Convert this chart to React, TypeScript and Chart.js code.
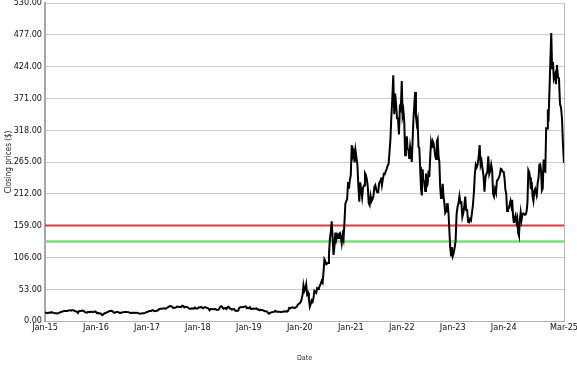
import { useEffect, useRef } from 'react';
import { Chart, registerables } from 'chart.js';

Chart.register(...registerables);

// X-axis ticks (months since Jan 2015) and their labels
const tickMonths = [0, 12, 24, 36, 48, 60, 72, 84, 96, 108, 122.2];
const tickLabels = ['Jan-15', 'Jan-16', 'Jan-17', 'Jan-18', 'Jan-19', 'Jan-20', 'Jan-21', 'Jan-22', 'Jan-23', 'Jan-24', 'Mar-25'];

// Y-axis range
const yMin = 0;
const yMax = 530;
const yStep = 53;

// Horizontal reference levels
const redLevel = 159;
const greenLevel = 132.5;

// Approximate weekly closing prices ($), per calendar year
const close2015 = [14.6, 13.8, 13.5, 13.4, 13.6, 14.5, 13.6, 14.6, 13.9, 13.4, 12.8, 13.0, 12.6, 12.7, 13.8, 14.1, 15.3, 15.4, 16.1, 16.5, 16.6, 16.5, 16.7, 17.2, 17.7, 18.0, 17.2, 17.8, 17.8, 17.6, 16.1, 16.2, 15.4, 13.4, 16.5, 16.6, 16.7, 17.5, 17.2, 16.5, 14.7, 14.2, 13.9, 15.4, 15.0, 14.6, 15.4, 15.3, 14.8, 15.2, 16.0];
const close2016 = [14.9, 13.2, 13.5, 12.7, 12.9, 11.9, 9.8, 11.0, 12.6, 13.4, 13.6, 15.0, 15.2, 16.6, 16.7, 16.9, 16.0, 14.2, 13.9, 14.6, 14.9, 14.9, 14.5, 13.1, 13.8, 14.4, 14.6, 14.8, 15.0, 15.1, 14.9, 14.8, 14.2, 13.3, 13.3, 13.8, 13.6, 13.3, 13.7, 13.6, 13.5, 12.7, 12.3, 12.4, 12.6, 12.8, 13.0, 13.5, 14.2];
const close2017 = [15.1, 15.2, 16.6, 16.8, 16.7, 18.0, 18.0, 16.4, 16.7, 16.8, 17.5, 18.6, 20.0, 20.3, 20.5, 20.9, 20.9, 21.3, 20.3, 21.7, 22.6, 23.8, 25.0, 24.7, 24.0, 21.8, 21.9, 22.0, 22.7, 23.9, 23.6, 23.5, 23.8, 23.3, 25.5, 24.8, 22.7, 23.6, 23.5, 23.0, 21.3, 20.6, 20.1, 21.1, 21.0, 20.3, 22.6, 21.6, 20.7];
const close2018 = [21.1, 22.7, 22.6, 23.6, 22.1, 21.3, 22.8, 23.0, 22.2, 21.9, 20.6, 17.7, 19.9, 20.0, 19.4, 19.5, 20.1, 19.3, 18.4, 18.6, 19.8, 23.9, 24.8, 22.9, 20.5, 21.2, 21.4, 19.9, 23.1, 23.9, 21.1, 20.4, 18.9, 19.5, 20.0, 17.7, 16.8, 17.2, 17.4, 22.1, 23.0, 23.1, 23.4, 23.3, 23.9, 24.4, 21.3, 22.2];
const close2019 = [21.2, 23.1, 19.9, 19.9, 20.9, 20.5, 20.3, 21.3, 19.1, 19.4, 17.9, 18.6, 18.4, 17.9, 17.4, 16.4, 16.4, 15.7, 13.7, 12.3, 13.7, 14.3, 14.8, 14.9, 15.6, 16.9, 15.3, 15.3, 15.4, 15.2, 14.9, 15.1, 15.2, 16.1, 16.0, 16.1, 15.6, 16.9, 21.9, 21.0, 22.4, 23.0, 22.2, 21.9, 22.3, 23.6, 27.0, 28.7];
const close2020 = [29.5, 32.1, 36.5, 43.4, 59.1, 49.9, 53.3, 61.2, 44.5, 46.9, 36.4, 24.1, 28.5, 34.3, 32.1, 38.2, 50.2, 48.3, 46.8, 54.6, 53.3, 55.2, 59.0, 62.4, 66.7, 64.0, 80.6, 103.0, 100.0, 94.5, 95.4, 96.8, 110.0, 136.6, 147.5, 166.1, 139.4, 110.0, 124.0, 147.4, 135.7, 143.0, 138.4, 144.8, 146.5, 140.0, 129.4, 143.3, 136.2, 163.2, 195.0, 199.7, 203.0, 231.7, 220.6, 235.2];
const close2021 = [243.3, 293.3, 275.3, 282.3, 264.5, 284.0, 272.0, 260.5, 225.2, 199.0, 231.0, 218.0, 206.0, 222.6, 225.7, 246.3, 243.0, 236.5, 224.0, 196.4, 193.0, 208.4, 199.7, 203.3, 207.8, 223.8, 226.6, 218.6, 214.5, 214.5, 229.0, 233.1, 239.0, 226.5, 236.4, 245.2, 244.7, 249.3, 253.3, 258.5, 261.7, 281.0, 303.3, 341.0, 371.3, 409.7, 344.5, 379.0, 360.6, 338.0, 339.0, 310.8, 355.7, 352.3];
const close2022 = [399.9, 342.3, 349.9, 332.0, 276.4, 282.0, 307.8, 286.7, 285.7, 270.0, 290.0, 279.6, 265.0, 301.8, 336.9, 359.2, 381.8, 341.8, 328.3, 335.0, 290.3, 288.6, 256.5, 221.3, 209.4, 252.8, 234.5, 232.0, 216.8, 245.7, 224.5, 227.8, 250.7, 240.0, 272.2, 297.1, 288.2, 300.0, 296.7, 288.0, 275.6, 270.2, 299.7, 303.4, 275.3, 265.3, 223.1, 205.0, 214.4, 228.5, 207.5, 196.0, 180.2, 182.9, 194.7, 194.9, 179.1, 150.2, 123.2, 109.1, 123.2];
const close2023 = [108.1, 113.1, 122.4, 133.4, 177.9, 190.0, 196.9, 208.3, 196.9, 197.8, 173.4, 180.1, 190.4, 207.5, 185.1, 185.0, 165.1, 164.3, 170.1, 168.0, 180.1, 193.2, 214.0, 244.4, 260.5, 256.6, 261.8, 274.4, 293.3, 260.0, 266.4, 253.9, 242.7, 215.5, 238.6, 245.0, 248.5, 274.4, 244.9, 250.2, 260.5, 251.1, 212.0, 207.3, 220.0, 214.7, 234.3, 235.5, 238.8, 243.8, 253.5, 252.5, 248.5];
const close2024 = [248.4, 237.5, 218.9, 212.2, 183.3, 187.3, 187.9, 193.6, 200.0, 192.0, 201.9, 175.3, 163.6, 170.8, 175.8, 164.9, 171.1, 147.1, 142.1, 168.3, 181.2, 168.5, 177.5, 179.2, 178.1, 177.5, 178.0, 183.0, 197.9, 251.5, 248.2, 239.2, 219.8, 232.1, 207.7, 200.0, 216.1, 220.3, 214.1, 210.7, 230.3, 238.3, 260.5, 261.6, 250.1, 217.8, 220.7, 269.2, 249.9, 249.0, 321.2, 320.7, 352.6, 345.2, 389.2, 436.2, 479.9, 421.1, 431.7, 403.8];
// 2025: Jan 3 .. Mar 7
const close2025 = [410.4, 394.7, 426.5, 406.6, 404.6, 361.6, 355.8, 337.8, 293.0, 263.5];
const start2025 = 120.07;
const end2025 = 122.2;

function buildSeries() {
  const fullYears = [close2015, close2016, close2017, close2018, close2019, close2020, close2021, close2022, close2023, close2024];
  const pts: { x: number; y: number }[] = [];
  fullYears.forEach((arr, k) => {
    arr.forEach((v, i) => pts.push({ x: 12 * k + (12 * i) / arr.length, y: v }));
  });
  close2025.forEach((v, i) => {
    pts.push({ x: start2025 + ((end2025 - start2025) * i) / (close2025.length - 1), y: v });
  });
  return pts;
}

const FONT = "'DejaVu Sans Condensed', 'DejaVu Sans', sans-serif";

export default function App() {
  const ref = useRef<HTMLCanvasElement | null>(null);

  useEffect(() => {
    document.body.style.margin = '0';
    const canvas = ref.current;
    if (!canvas) return;
    const series = buildSeries();
    const xMin = tickMonths[0];
    const xMax = tickMonths[tickMonths.length - 1];

    const rightBorder = {
      id: 'rightBorder',
      afterDraw(chart: any) {
        const { ctx, chartArea } = chart;
        ctx.save();
        ctx.strokeStyle = '#b8b8b8';
        ctx.lineWidth = 1;
        ctx.beginPath();
        ctx.moveTo(Math.round(chartArea.right) + 0.5, chartArea.top);
        ctx.lineTo(Math.round(chartArea.right) + 0.5, chartArea.bottom);
        ctx.stroke();
        ctx.restore();
      },
    };

    const chart = new Chart(canvas, {
      type: 'line',
      data: {
        datasets: [
          {
            data: series,
            borderColor: '#000000',
            borderWidth: 2,
            pointRadius: 0,
            tension: 0,
            fill: false,
          },
          {
            data: [
              { x: xMin, y: redLevel },
              { x: xMax, y: redLevel },
            ],
            borderColor: '#dd3a3a',
            borderWidth: 2,
            pointRadius: 0,
            fill: false,
          },
          {
            data: [
              { x: xMin, y: greenLevel },
              { x: xMax, y: greenLevel },
            ],
            borderColor: '#77e077',
            borderWidth: 2.5,
            pointRadius: 0,
            fill: false,
          },
        ],
      },
      plugins: [rightBorder],
      options: {
        animation: false,
        responsive: false,
        maintainAspectRatio: false,
        layout: { padding: { top: 3, right: 13, left: 0, bottom: 0 } },
        plugins: {
          legend: { display: false },
          tooltip: { enabled: false },
        },
        scales: {
          x: {
            type: 'linear',
            min: xMin,
            max: xMax,
            afterBuildTicks: (scale: any) => {
              scale.ticks = tickMonths.map((v) => ({ value: v }));
            },
            afterFit: (scale: any) => {
              scale.height = 46;
              scale.paddingLeft = 0;
              scale.paddingRight = 0;
            },
            ticks: {
              autoSkip: false,
              maxRotation: 0,
              padding: 1,
              color: '#111',
              font: { family: FONT, size: 9 },
              callback: (_v: any, i: number) => tickLabels[i],
            },
            grid: { display: false, drawTicks: false },
            border: { display: true, color: '#b0b0b0', width: 1 },
            title: {
              display: true,
              text: 'Date',
              color: '#333',
              font: { family: FONT, size: 7 },
              padding: { top: 0, bottom: 5 },
            },
          },
          y: {
            min: yMin,
            max: yMax,
            afterBuildTicks: (scale: any) => {
              const t: { value: number }[] = [];
              for (let v = yMin; v <= yMax + 0.001; v += yStep) t.push({ value: v });
              scale.ticks = t;
            },
            afterFit: (scale: any) => {
              scale.width = 45;
              scale.paddingTop = 0;
              scale.paddingBottom = 0;
            },
            ticks: {
              padding: 3,
              color: '#111',
              font: { family: FONT, size: 9 },
              callback: (v: any) => Number(v).toFixed(2),
            },
            grid: { color: '#cccccc', lineWidth: 1, drawTicks: false },
            border: { display: true, color: '#a8a8a8', width: 2 },
            title: {
              display: true,
              text: 'Closing prices ($)',
              color: '#222',
              font: { family: FONT, size: 8 },
              padding: { top: 4, bottom: 0 },
            },
          },
        },
      },
    } as any);

    return () => chart.destroy();
  }, []);

  return (
    <div style={{ width: 577, height: 367 }}>
      <canvas ref={ref} width={577} height={367} style={{ display: 'block' }} />
    </div>
  );
}
